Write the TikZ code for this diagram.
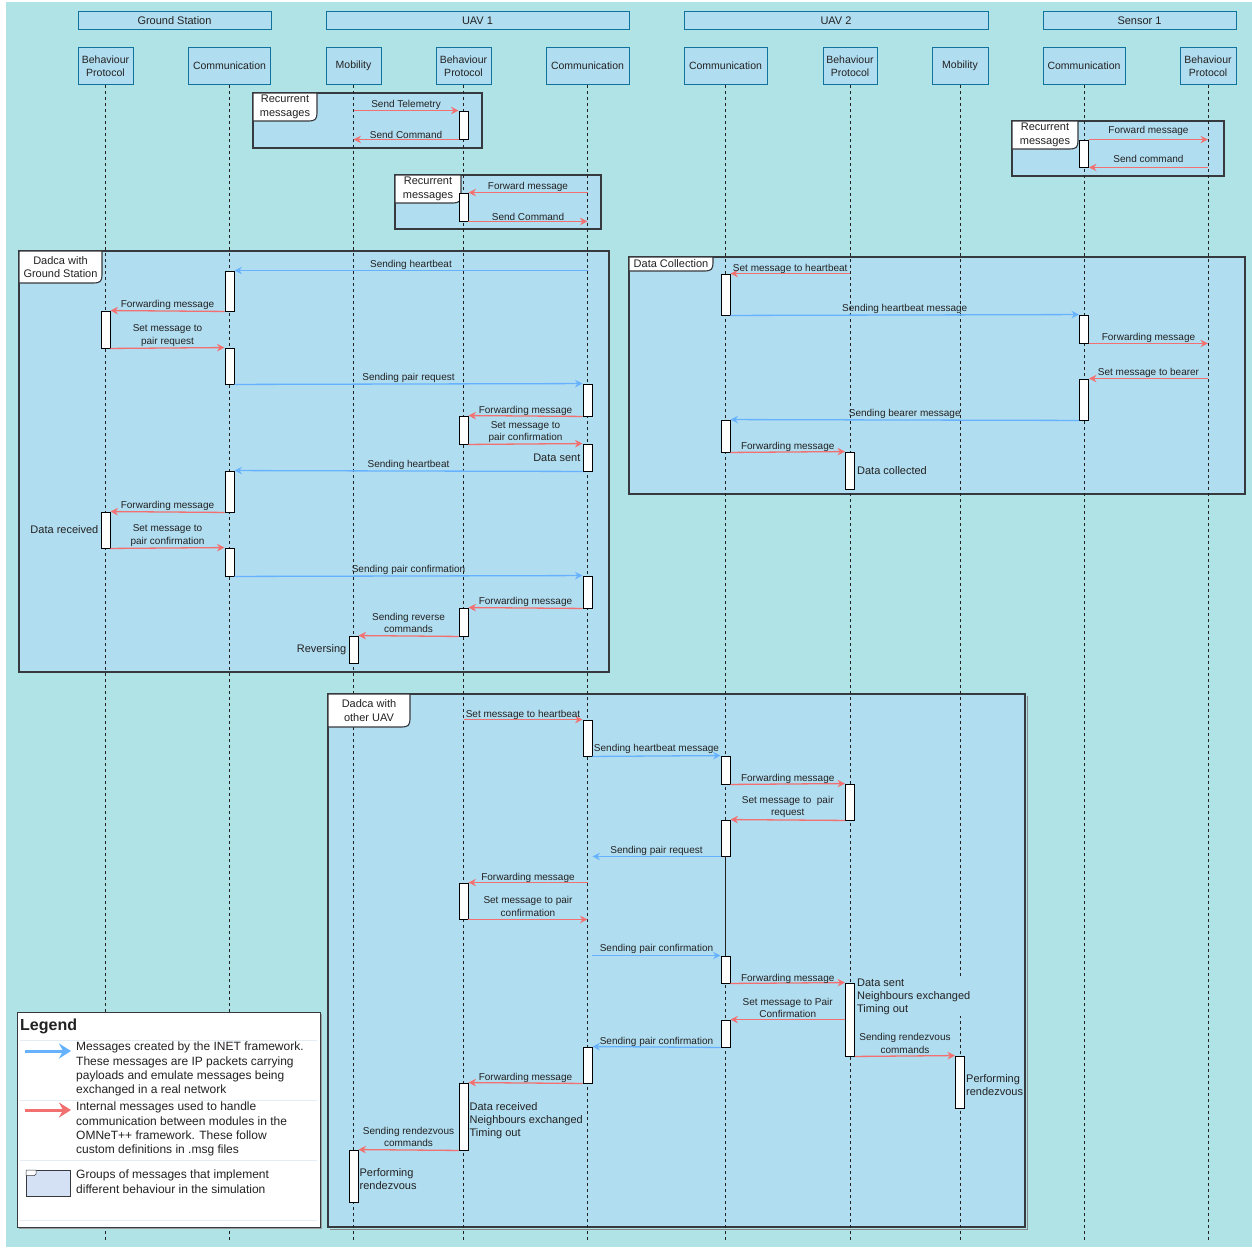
\documentclass[tikz,border=0pt]{standalone}
\usepackage{fontspec}
\setmainfont{Liberation Sans}
\usetikzlibrary{arrows.meta}
\definecolor{bgteal}{HTML}{B0E3E6}
\definecolor{boxfill}{HTML}{B1DDF0}
\definecolor{boxline}{HTML}{10739E}
\definecolor{frameline}{HTML}{36393D}
\definecolor{msgblue}{HTML}{66B2FF}
\definecolor{msgred}{HTML}{F27070}
\definecolor{txt}{HTML}{222222}
\definecolor{legicon}{HTML}{D4E1F5}
\definecolor{sepgray}{HTML}{E3ECF4}
\tikzset{
 grphdr/.style={draw=boxline, fill=boxfill, line width=0.9pt, inner sep=0pt, text=txt, font=\fontsize{11}{13}\selectfont, align=center, minimum height=18pt},
 hdr/.style={draw=boxline, fill=boxfill, line width=0.9pt, inner sep=0pt, text=txt, font=\fontsize{10.5}{13}\selectfont, align=center, minimum height=37pt},
 actbox/.style={draw=black, fill=white, line width=0.9pt, minimum width=9pt, inner sep=0pt},
 lifeline/.style={draw=txt, line width=0.7pt, dash pattern=on 3pt off 3pt},
 gframe/.style={draw=frameline, fill=boxfill, line width=1.1pt},
 gtab/.style={draw=frameline, fill=white, line width=1.1pt},
 tabtext/.style={text=txt, font=\fontsize{11}{13.5}\selectfont, align=center, inner sep=0pt},
 bmsg/.style={draw=msgblue, line width=1.3pt, -{Stealth[length=7.5pt,width=7.5pt]}},
 rmsg/.style={draw=msgred, line width=1.3pt, -{Stealth[length=7.5pt,width=7.5pt]}},
 lbl/.style={text=txt, font=\fontsize{10}{12.5}\selectfont, align=center, inner sep=1.5pt, yshift=-2pt},
 note/.style={text=txt, font=\fontsize{11}{13.3}\selectfont, align=left, inner sep=2pt},
 legtext/.style={text=txt, font=\fontsize{12}{14.3}\selectfont, align=left, inner sep=1pt, anchor=north west},
 sepline/.style={draw=sepgray, line width=1pt},
}
\newcommand\actbar[4]{%
  \path (0,{(#3+#4)/2}) coordinate (tmpy);
  \node[actbox, minimum height={(#4-#3)*1pt}] (#1) at (#2 |- tmpy) {};
}
\newcommand\grouptab[6]{%
  \draw[gtab] ({#1},{#2}) -- ({#3},{#2}) -- ({#3},{#4-8}) .. controls ({#3},{#4-2}) and ({#3-2},{#4}) .. ({#3-8},{#4}) -- ({#1},{#4}) -- cycle;
  \node[tabtext] (#6) at ({(#1+#3)/2},{(#2+#4)/2}) {#5};
}
\begin{document}
\begin{tikzpicture}[x=1pt,y=-1pt]
\useasboundingbox (0,0) rectangle (1252,1247);
\fill[white] (0,0) rectangle (1252,1247);
\fill[bgteal] (6,2) rectangle (1252,1247);

% group frames (bodies)
\draw[gframe] (253,93) rectangle (482,148);
\draw[gframe] (395,175) rectangle (601,229);
\draw[gframe] (1012,121) rectangle (1224,176);
\draw[gframe] (19,251) rectangle (609,672);
\draw[gframe] (629,257) rectangle (1245,494);
\draw[frameline!60, line width=1pt] (330,1229) -- (1027,1229) -- (1027,696);
\draw[gframe] (328,694) rectangle (1025,1227);

% headers
\node[grphdr, minimum width=193pt] (hGS) at (174.5,20.5) {Ground Station};
\node[grphdr, minimum width=303pt] (hU1) at (477.5,20.5) {UAV 1};
\node[grphdr, minimum width=304pt] (hU2) at (836,20.5) {UAV 2};
\node[grphdr, minimum width=193pt] (hS1) at (1139.5,20.5) {Sensor 1};

\node[hdr, minimum width=55pt] (gsbp) at (105.5,65.8) {Behaviour\\Protocol};
\node[hdr, minimum width=82pt] (gscom) at (229.5,65.8) {Communication};
\node[hdr, minimum width=55pt] (u1mob) at (353.5,65.8) {Mobility};
\node[hdr, minimum width=55pt] (u1bp) at (463.5,65.8) {Behaviour\\Protocol};
\node[hdr, minimum width=83pt] (u1com) at (587.5,65.8) {Communication};
\node[hdr, minimum width=83pt] (u2com) at (725.5,65.8) {Communication};
\node[hdr, minimum width=54pt] (u2bp) at (850,65.8) {Behaviour\\Protocol};
\node[hdr, minimum width=56pt] (u2mob) at (960,65.8) {Mobility};
\node[hdr, minimum width=82pt] (s1com) at (1084,65.8) {Communication};
\node[hdr, minimum width=56pt] (s1bp) at (1208,65.8) {Behaviour\\Protocol};

% lifelines
\coordinate (lend) at (0,1240);
\foreach \n in {gsbp,gscom,u1mob,u1bp,u1com,u2com,u2bp,u2mob,s1com,s1bp}
  \draw[lifeline] (\n.south) -- (\n.south |- lend);

% tabs
\grouptab{253}{93}{317}{121}{Recurrent\\messages}{t1}
\grouptab{395}{175}{461}{203}{Recurrent\\messages}{t2}
\grouptab{1012}{121}{1078}{149}{Recurrent\\messages}{t3}
\grouptab{19}{251}{102}{283}{Dadca with\\Ground Station}{t4}
\grouptab{629}{257}{713}{271}{Data Collection}{t5}
\grouptab{328}{694}{410}{727}{Dadca with\\other UAV}{t6}

% ---- Recurrent 1
\actbar{r1}{u1bp}{111}{139}
\draw[rmsg] (r1.north -| u1mob) -- (r1.north west) node[lbl, midway, above=1pt] {Send Telemetry};
\draw[rmsg] (r1.south west) -- (r1.south -| u1mob) node[lbl, midway, above=1pt] {Send Command};
% ---- Recurrent 2
\actbar{r2}{u1bp}{193}{221}
\draw[rmsg] (r2.north -| u1com) -- (r2.north east) node[lbl, midway, above=1pt] {Forward message};
\draw[rmsg] (r2.south east) -- (r2.south -| u1com) node[lbl, midway, above=1pt] {Send Command};
% ---- Recurrent 3
\actbar{r3}{s1com}{140}{167}
\draw[rmsg] (r3.north east) -- (r3.north -| s1bp) node[lbl, midway, above=4pt] {Forward message};
\draw[rmsg] (r3.south -| s1bp) -- (r3.south east) node[lbl, midway, above=5pt] {Send command};

% ---- Dadca with Ground Station
\actbar{g1}{gscom}{271}{311}
\actbar{g2}{gsbp}{311}{348}
\actbar{g3}{gscom}{348}{384}
\actbar{g4}{u1com}{384}{416}
\actbar{g5}{u1bp}{416}{444}
\actbar{g6}{u1com}{444}{471}
\actbar{g7}{gscom}{471}{512}
\actbar{g8}{gsbp}{512}{548}
\actbar{g9}{gscom}{548}{576}
\actbar{g10}{u1com}{576}{608}
\actbar{g11}{u1bp}{608}{636}
\actbar{g12}{u1mob}{636}{663}
\draw[bmsg] (g1.north -| u1com) -- (g1.north east) node[lbl, midway, above=1pt] {Sending heartbeat};
\draw[rmsg] (g1.south west) -- (g2.north east) node[lbl, midway, above=1pt] {Forwarding message};
\draw[rmsg] (g2.south east) -- (g3.north west) node[lbl, midway, above=1.5pt] {Set message to\\pair request};
\draw[bmsg] (g3.south east) -- (g4.north west) node[lbl, midway, above=1pt] {Sending pair request};
\draw[rmsg] (g4.south west) -- (g5.north east) node[lbl, midway, above=0pt] {Forwarding message};
\draw[rmsg] (g5.south east) -- (g6.north west) node[lbl, midway, above=1pt] {Set message to\\pair confirmation};
\draw[bmsg] (g6.south west) -- (g7.north east) node[lbl, midway, above=1pt] {Sending heartbeat};
\draw[rmsg] (g7.south west) -- (g8.north east) node[lbl, midway, above=1pt] {Forwarding message};
\draw[rmsg] (g8.south east) -- (g9.north west) node[lbl, midway, above=1.5pt] {Set message to\\pair confirmation};
\draw[bmsg] (g9.south east) -- (g10.north west) node[lbl, midway, above=1pt] {Sending pair confirmation};
\draw[rmsg] (g10.south west) -- (g11.north east) node[lbl, midway, above=1pt] {Forwarding message};
\draw[rmsg] (g11.south west) -- (g12.north east) node[lbl, midway, above=3pt] {Sending reverse\\commands};
\node[note, anchor=east] (n1) at (g6.west) {Data sent};
\node[note, anchor=east] (n2) at (g8.west) {Data received};
\node[note, anchor=east] (n3) at (g12.west) {Reversing};

% ---- Data Collection
\actbar{d1}{u2com}{274}{315}
\actbar{d2}{s1com}{315}{343}
\actbar{d3}{s1com}{379}{420}
\actbar{d4}{u2com}{420}{452}
\actbar{d5}{u2bp}{452}{489}
\draw[rmsg] (d1.north -| u2bp) -- (d1.north east) node[lbl, midway, above=0pt] {Set message to heartbeat};
\draw[bmsg] (d1.south east) -- (d2.north west) node[lbl, midway, above=1pt] {Sending heartbeat message};
\draw[rmsg] (d2.south east) -- (d2.south -| s1bp) node[lbl, midway, above=1pt] {Forwarding message};
\draw[rmsg] (d3.north -| s1bp) -- (d3.north east) node[lbl, midway, above=1pt] {Set message to bearer};
\draw[bmsg] (d3.south west) -- (d4.north east) node[lbl, midway, above=1pt] {Sending bearer message};
\draw[rmsg] (d4.south east) -- (d5.north west) node[lbl, midway, above=0pt] {Forwarding message};
\node[note, anchor=west] (n4) at (d5.east) {Data collected};

% ---- Dadca with other UAV
\actbar{o1}{u1com}{720}{756}
\actbar{o2}{u2com}{756}{784}
\actbar{o3}{u2bp}{784}{820}
\actbar{o4}{u2com}{820}{856}
\actbar{o5}{u1bp}{883}{919}
\actbar{o6}{u2com}{956}{983}
\actbar{o7}{u2bp}{983}{1056}
\actbar{o8}{u2com}{1020}{1047}
\actbar{o9}{u1com}{1047}{1083}
\actbar{o10}{u2mob}{1056}{1108}
\actbar{o11}{u1bp}{1083}{1150}
\actbar{o12}{u1mob}{1150}{1202}
\draw[txt, line width=0.7pt] (o4.south) -- (o6.north);
\draw[rmsg] (o1.north -| u1bp) -- (o1.north west) node[lbl, midway, above=0pt] {Set message to heartbeat};
\draw[bmsg] (o1.south east) -- (o2.north west) node[lbl, midway, above=2pt] {Sending heartbeat message};
\draw[rmsg] (o2.south east) -- (o3.north west) node[lbl, midway, above=0pt] {Forwarding message};
\draw[rmsg] (o3.south west) -- (o4.north east) node[lbl, midway, above=2pt] {Set message to\ \ pair\\request};
\draw[bmsg] (o4.south west) -- (o4.south -| o1.east) node[lbl, midway, above=1pt] {Sending pair request};
\draw[rmsg] (o5.north -| u1com) -- (o5.north east) node[lbl, midway, above=0pt] {Forwarding message};
\draw[rmsg] (o5.south east) -- (o5.south -| u1com) node[lbl, midway, above=3pt] {Set message to pair\\confirmation};
\draw[bmsg] (o6.north -| o1.east) -- (o6.north west) node[lbl, midway, above=2pt] {Sending pair confirmation};
\draw[rmsg] (o6.south east) -- (o7.north west) node[lbl, midway, above=-1pt] {Forwarding message};
\draw[rmsg] (o8.north -| o7.west) -- (o8.north east) node[lbl, midway, above=1.5pt] {Set message to Pair\\Confirmation};
\draw[bmsg] (o8.south west) -- (o9.north east) node[lbl, midway, above=0pt] {Sending pair confirmation};
\draw[rmsg] (o7.south east) -- (o10.north west) node[lbl, midway, above=2.5pt] {Sending rendezvous\\commands};
\draw[rmsg] (o9.south west) -- (o11.north east) node[lbl, midway, above=0pt] {Forwarding message};
\draw[rmsg] (o11.south west) -- (o12.north east) node[lbl, midway, above=3pt] {Sending rendezvous\\commands};
\node[note, anchor=north west, fill=boxfill, inner sep=1pt] (n5) at ([xshift=1pt, yshift=5pt]o7.north east) {Data sent\\Neighbours exchanged\\Timing out};
\node[note, anchor=west, inner sep=1pt] (n6) at ([yshift=-3pt]o10.east) {Performing\\rendezvous};
\node[note, anchor=west, inner sep=1pt] (n7) at ([yshift=-4pt]o11.east) {Data received\\Neighbours exchanged\\Timing out};
\node[note, anchor=west, inner sep=1pt] (n8) at ([yshift=-3pt]o12.east) {Performing\\rendezvous};

% ---- Legend
\fill[frameline!50] (18.5,1013.5) rectangle (321.5,1228.5);
\node[draw=frameline, fill=white, line width=1pt, minimum width=303pt, minimum height=215pt, anchor=north west, inner sep=0pt] (legend) at (17,1012) {};
\node[text=txt, font=\bfseries\fontsize{16}{18}\selectfont, anchor=west, inner sep=0pt] (legtitle) at (20,1026) {Legend};
\draw[sepline] (20,1040) -- (317,1040);
\draw[sepline] (20,1100) -- (317,1100);
\draw[sepline] (20,1160) -- (317,1160);
\draw[sepline] (20,1220) -- (317,1220);
\coordinate (lb1) at (25,1051);
\coordinate (lb2) at (71,1051);
\coordinate (lr1) at (25,1110);
\coordinate (lr2) at (71,1110);
\draw[draw=msgblue, line width=3pt, -{Stealth[length=12pt,width=15pt,inset=4pt]}] (lb1) -- (lb2);
\draw[draw=msgred, line width=3pt, -{Stealth[length=12pt,width=15pt,inset=4pt]}] (lr1) -- (lr2);
\draw[draw=frameline, fill=legicon, line width=0.8pt] (26,1170) rectangle (70,1196);
\draw[draw=frameline, fill=white, line width=0.5pt] (26,1170) -- (36,1170) -- (36,1174) -- (34.5,1175.5) -- (26,1175.5) -- cycle;
\node[legtext] (lt1) at (75,1041) {Messages created by the INET framework.\\These messages are IP packets carrying\\payloads and emulate messages being\\exchanged in a real network};
\node[legtext] (lt2) at (75,1101) {Internal messages used to handle\\communication between modules in the\\OMNeT++ framework. These follow\\custom definitions in .msg files};
\node[legtext] (lt3) at (75,1169) {Groups of messages that implement\\different behaviour in the simulation};
\end{tikzpicture}
\end{document}
